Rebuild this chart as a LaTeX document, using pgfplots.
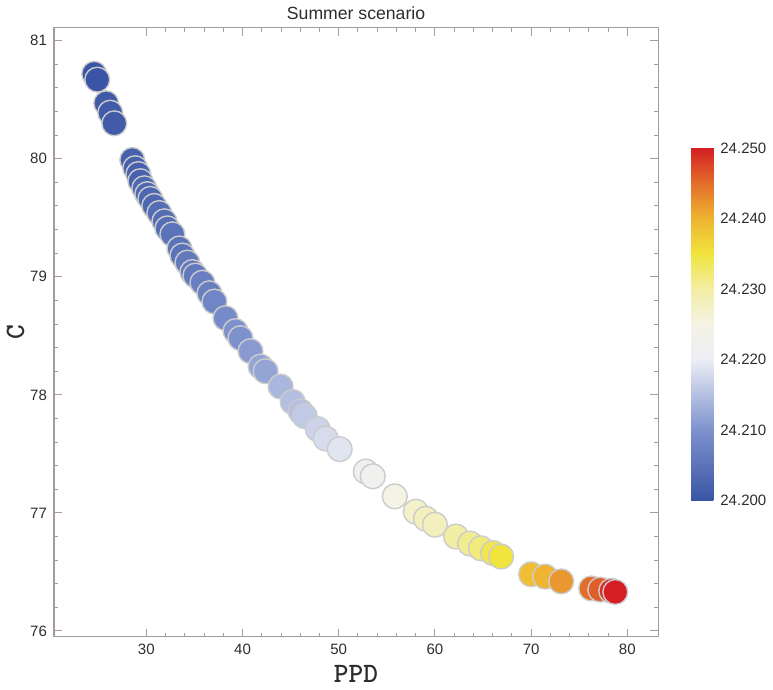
\documentclass[border=0pt]{standalone}
\usepackage{fontspec}
\setmainfont{Liberation Sans}
\usepackage{pgfplots}
\pgfplotsset{compat=1.18}
\usepackage{pgfplotstable}
\definecolor{framegray}{RGB}{165,155,155}
\definecolor{txtgray}{RGB}{45,45,45}

% x = PPD, y = C, c = colour value
\pgfplotstableread{
x     y      c
24.58 80.72 24.200
24.90 80.67 24.200
25.83 80.47 24.201
26.25 80.39 24.201
26.67 80.30 24.201
28.54 79.99 24.202
28.85 79.92 24.202
29.17 79.87 24.202
29.38 79.81 24.202
29.79 79.75 24.203
30.10 79.70 24.203
30.42 79.66 24.203
30.83 79.60 24.203
31.35 79.54 24.204
31.88 79.47 24.204
32.19 79.41 24.204
32.71 79.36 24.205
33.44 79.24 24.205
33.75 79.18 24.205
34.27 79.12 24.206
34.79 79.04 24.206
35.10 79.01 24.206
35.83 78.95 24.207
36.56 78.86 24.207
37.08 78.79 24.208
38.23 78.65 24.209
39.27 78.54 24.210
39.79 78.48 24.210
40.83 78.37 24.211
41.88 78.24 24.212
42.40 78.20 24.212
43.96 78.07 24.214
45.21 77.94 24.215
46.04 77.86 24.215
46.46 77.82 24.216
47.81 77.71 24.217
48.65 77.63 24.218
50.10 77.54 24.219
52.81 77.35 24.221
53.54 77.31 24.222
55.83 77.14 24.225
58.02 77.01 24.227
59.06 76.95 24.228
60.00 76.90 24.228
62.19 76.80 24.230
63.65 76.74 24.231
64.79 76.70 24.232
66.04 76.66 24.234
66.88 76.63 24.235
70.00 76.48 24.239
71.46 76.46 24.240
73.13 76.42 24.242
76.25 76.36 24.245
77.19 76.35 24.246
78.33 76.34 24.249
78.75 76.33 24.250
}\summer

\begin{document}
\begin{tikzpicture}
\begin{axis}[
  scale only axis,
  width=301.5pt, height=304pt,
  xmin=20.4, xmax=83.2,
  ymin=75.95, ymax=81.11,
  xtick={30,40,...,80},
  ytick={76,77,...,81},
  minor x tick num=4,
  minor y tick num=4,
  tick align=inside,
  major tick length=4pt,
  minor tick length=2pt,
  axis line style={framegray, line width=0.6pt},
  every tick/.style={framegray, line width=0.5pt},
  tick label style={font=\fontsize{7.5}{9}\selectfont, text=txtgray},
  /pgf/number format/assume math mode=true,
  title={Summer scenario},
  title style={font=\fontsize{8.8}{10}\selectfont, text=txtgray, yshift=-5.5pt},
  xlabel={\ttfamily\bfseries PPD},
  ylabel={\ttfamily\bfseries C},
  label style={font=\fontsize{14}{16}\selectfont, text=txtgray},
  xlabel style={yshift=1.5pt},
  ylabel style={yshift=-4pt},
  colormap={summer}{
    rgb255(0)=(58,85,165)
    rgb255(10)=(125,145,205)
    rgb255(20)=(236,238,245)
    rgb255(25)=(245,243,228)
    rgb255(30)=(242,238,165)
    rgb255(35)=(241,228,60)
    rgb255(40)=(238,180,50)
    rgb255(45)=(226,110,42)
    rgb255(50)=(212,30,35)
  },
  point meta min=24.2, point meta max=24.25,
  colorbar right,
  colorbar style={
    at={(parent axis.east)}, anchor=west,
    xshift=8pt, yshift=4pt,
    width=11pt, height=176pt,
    ytick={24.2,24.21,...,24.25},
    yticklabel style={font=\fontsize{7.5}{9}\selectfont, text=txtgray,
      /pgf/number format/.cd, fixed, fixed zerofill, precision=3,
      assume math mode=true},
    major tick length=0pt,
    axis line style={draw=none},
  },
]
\addplot[
  scatter, only marks,
  mark=*, mark size=6.2pt,
  point meta=explicit,
  scatter/use mapped color={draw=black!20, fill=mapped color, line width=0.7pt},
] table[x=x, y=y, meta=c] {\summer};
\end{axis}
\end{tikzpicture}
\end{document}
